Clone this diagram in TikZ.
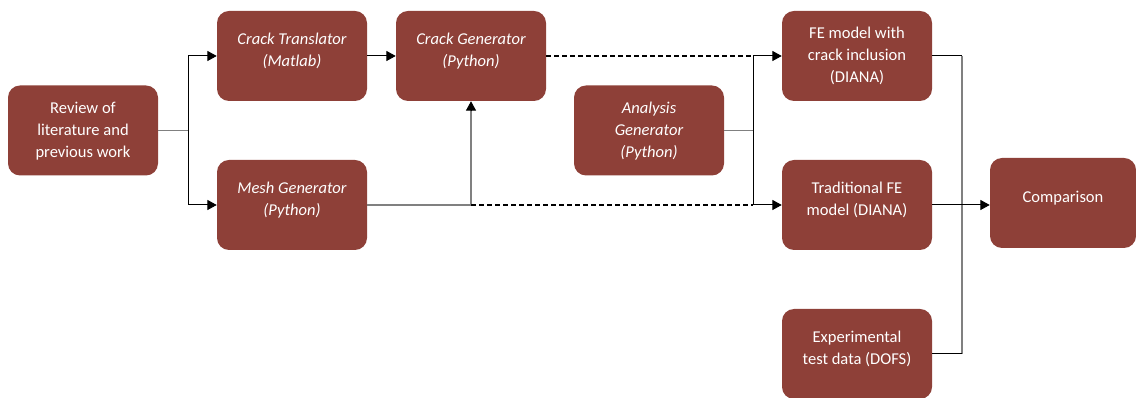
\documentclass[tikz,border=0pt]{standalone}
\usepackage{fontspec}
\setmainfont{Carlito}
\usetikzlibrary{arrows.meta}
\definecolor{boxred}{RGB}{142,64,56}
\definecolor{lgray}{RGB}{128,128,128}
\begin{document}
\begin{tikzpicture}[x=0.75pt,y=-0.75pt,
  box/.style={draw=none,fill=boxred,rounded corners=9pt,minimum width=112.5pt,minimum height=67.5pt,inner sep=0pt},
  txt/.style={text=white,align=center,font=\fontsize{12.4pt}{16.5pt}\selectfont,inner sep=0pt},
  itxt/.style={txt,font=\fontsize{12.4pt}{16.5pt}\selectfont\itshape},
  bline/.style={draw=black,line width=0.75pt},
  gline/.style={draw=lgray,line width=1.1pt},
  arr/.style={-{Triangle[length=7pt,width=7.5pt]}},
  dline/.style={draw=black,line width=0.9pt,dash pattern=on 3.75pt off 2.25pt}]
\useasboundingbox (0,0) rectangle (1136,398);
% boxes
\node[box] (rev) at (83,130.5) {};
\node[box] (ct) at (292,56) {};
\node[box] (mg) at (292,205) {};
\node[box] (cg) at (471,56) {};
\node[box] (an) at (649,130.5) {};
\node[box] (fe) at (857,56) {};
\node[box] (tr) at (857,205) {};
\node[box] (ex) at (857,354) {};
\node[box,minimum width=109.5pt] (cmp) at (1063,203) {};
% texts
\node[txt] (revt) at (83,131) {Review of\\literature and\\previous work};
\node[itxt] (ctt) at (292,51) {Crack Translator\\(Matlab)};
\node[itxt] (mgt) at (292,200) {Mesh Generator\\(Python)};
\node[itxt] (cgt) at (471,51) {Crack Generator\\(Python)};
\node[itxt] (ant) at (649,131) {Analysis\\Generator\\(Python)};
\node[txt] (fet) at (857,56) {FE model with\\crack inclusion\\(DIANA)};
\node[txt] (trt) at (857,200) {Traditional FE\\model (DIANA)};
\node[txt] (cmpt) at (1063,198) {Comparison};
\node[txt] (ext) at (857,349) {Experimental\\test data (DOFS)};
% junctions
\coordinate (j1) at (188,130.5);
\coordinate (j2) at (471,205);
\coordinate (j3) at (753,205);
\coordinate (j4) at (753,56);
\coordinate (k1) at (962,56);
\coordinate (k2) at (962,354);
% connectors
\draw[gline] (rev.east) -- (j1);
\draw[bline,arr] (j1) |- (ct.west);
\draw[bline,arr] (j1) |- (mg.west);
\draw[bline,arr] (ct.east) -- (cg.west);
\draw[gline] (mg.east) -- (j2);
\draw[gline] (j2) -- ([yshift=-6pt]cg.south);
\draw[bline,arr] ([yshift=-7.5pt]cg.south) -- (cg.south);
\draw[dline] (j2) -- (j3);
\draw[dline] (cg.east) -- (j4);
\draw[bline] (j4) -- (j3);
\draw[bline,arr] (j4) -- (fe.west);
\draw[bline,arr] (j3) -- (tr.west);
\draw[gline] (an.east) -- (an.east -| j3);
\draw[bline] (fe.east) -- (k1);
\draw[draw=lgray,line width=0.9pt] (k1) -- (k2);
\draw[bline] (ex.east) -- (k2);
\draw[bline,arr] (tr.east) -- (tr.east -| cmp.west);
\end{tikzpicture}
\end{document}
